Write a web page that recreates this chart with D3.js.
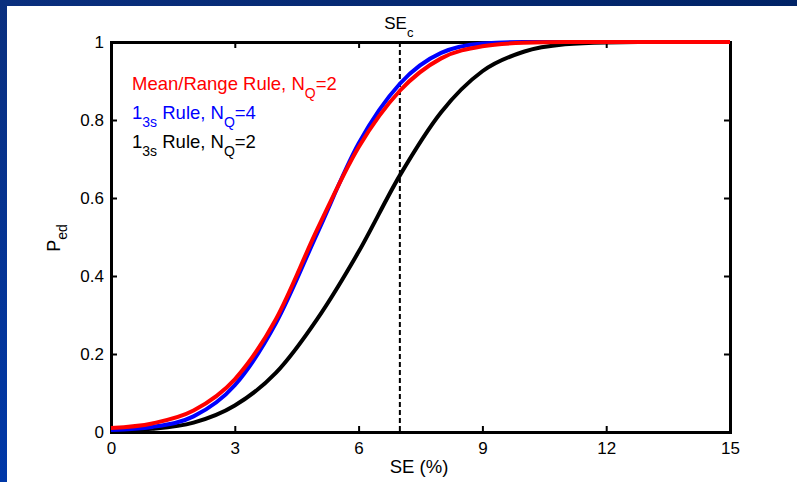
<!DOCTYPE html>
<html>
<head>
<meta charset="utf-8">
<script src="https://cdn.jsdelivr.net/npm/d3@7/dist/d3.min.js"></script>
<style>
  html, body { margin: 0; padding: 0; background: #fff; }
  svg { display: block; font-family: "Liberation Sans", Arial, sans-serif; }
</style>
</head>
<body>
<svg id="chart" width="797" height="482"></svg>
<script>
// Systematic error (%) at which each curve is sampled
const seValues = [0, 1, 2, 3, 4, 5, 6, 7, 8, 9, 10, 11, 12, 13, 14, 15];

// Probability of error detection for each QC rule
const pedMeanRange = [0.010, 0.022, 0.055, 0.135, 0.290, 0.520, 0.730, 0.875, 0.958, 0.989,
                      0.998, 1, 1, 1, 1, 1];
const ped13sN4 =     [0.005, 0.013, 0.040, 0.120, 0.280, 0.510, 0.740, 0.893, 0.972, 0.996,
                      1, 1, 1, 1, 1, 1];
const ped13sN2 =     [0.003, 0.008, 0.024, 0.068, 0.152, 0.290, 0.462, 0.658, 0.820, 0.925,
                      0.975, 0.994, 0.999, 1, 1, 1];

const xTicks = [0, 3, 6, 9, 12, 15];
const yTicks = [0, 0.2, 0.4, 0.6, 0.8, 1];
const yTickLabels = ["0", "0.2", "0.4", "0.6", "0.8", "1"];
const seCritical = 7;

const svg = d3.select("#chart");
const W = 797, H = 482;

// Slide-style frame: navy bar on top, blue strip on the left
const defs = svg.append("defs");
const gTop = defs.append("linearGradient").attr("id", "topBar").attr("x1", 0).attr("x2", 1).attr("y1", 0).attr("y2", 0);
gTop.append("stop").attr("offset", "0%").attr("stop-color", "#0a2f7e");
gTop.append("stop").attr("offset", "100%").attr("stop-color", "#002366");
const gLeft = defs.append("linearGradient").attr("id", "leftBar").attr("x1", 0).attr("x2", 0).attr("y1", 0).attr("y2", 1);
gLeft.append("stop").attr("offset", "0%").attr("stop-color", "#0a2f7e");
gLeft.append("stop").attr("offset", "100%").attr("stop-color", "#0038a8");

svg.append("rect").attr("x", 0).attr("y", 0).attr("width", W).attr("height", H).attr("fill", "#fff");
svg.append("rect").attr("x", 0).attr("y", 0).attr("width", 7).attr("height", H).attr("fill", "url(#leftBar)");
svg.append("rect").attr("x", 0).attr("y", 0).attr("width", W).attr("height", 6).attr("fill", "url(#topBar)");

const plotLeft = 111, plotRight = 730, plotTop = 42, plotBottom = 432;
const x = d3.scaleLinear().domain([0, 15]).range([plotLeft, plotRight]);
const y = d3.scaleLinear().domain([0, 1]).range([plotBottom, plotTop]);

const tickLen = 6;
const axisW = 3;

// Box axes with inward ticks on all four sides
const axB = svg.append("g").attr("transform", `translate(0,${plotBottom})`)
  .call(d3.axisBottom(x).tickValues(xTicks).tickSizeInner(-tickLen).tickSizeOuter(0).tickPadding(10).tickFormat(d3.format("d")));
const axT = svg.append("g").attr("transform", `translate(0,${plotTop})`)
  .call(d3.axisTop(x).tickValues(xTicks).tickSizeInner(-tickLen).tickSizeOuter(0).tickFormat(""));
const axL = svg.append("g").attr("transform", `translate(${plotLeft},0)`)
  .call(d3.axisLeft(y).tickValues(yTicks).tickSizeInner(-tickLen).tickSizeOuter(0).tickPadding(7)
    .tickFormat((d, i) => yTickLabels[i]));
const axR = svg.append("g").attr("transform", `translate(${plotRight},0)`)
  .call(d3.axisRight(y).tickValues(yTicks).tickSizeInner(-tickLen).tickSizeOuter(0).tickFormat(""));

[axB, axT, axL, axR].forEach(g => {
  g.select(".domain").attr("stroke", "#000").attr("stroke-width", axisW).attr("stroke-linecap", "square");
  g.selectAll(".tick line").attr("stroke", "#000").attr("stroke-width", 2);
  g.selectAll(".tick text").attr("fill", "#000").attr("font-size", 17)
    .attr("font-family", "'Liberation Sans', Arial, sans-serif");
});

// Critical systematic error marker
svg.append("line")
  .attr("x1", x(seCritical)).attr("x2", x(seCritical))
  .attr("y1", y(1)).attr("y2", y(0))
  .attr("stroke", "#000").attr("stroke-width", 2).attr("stroke-dasharray", "5,3");

const seLabel = svg.append("text").attr("x", x(seCritical) - 1).attr("y", 29)
  .attr("text-anchor", "middle").attr("font-size", 17).attr("fill", "#000");
seLabel.append("tspan").text("SE");
seLabel.append("tspan").attr("dy", 8).attr("font-size", 13).text("c");

// Power curves
const line = d3.line().x(d => x(d[0])).y(d => y(d[1])).curve(d3.curveMonotoneX);
const series = [
  { values: ped13sN2, color: "#000000" },
  { values: ped13sN4, color: "#0000ff" },
  { values: pedMeanRange, color: "#ff0000" }
];
series.forEach(s => {
  svg.append("path")
    .datum(seValues.map((se, i) => [se, s.values[i]]))
    .attr("fill", "none").attr("stroke", s.color).attr("stroke-width", 4)
    .attr("stroke-linejoin", "round").attr("d", line);
});

// Legend text
const legend = [
  { main: "Mean/Range Rule, N", sub1: null, color: "#ff0000", pre: null, eq: "=2" },
  { main: " Rule, N", pre: "1", sub1: "3s", color: "#0000ff", eq: "=4" },
  { main: " Rule, N", pre: "1", sub1: "3s", color: "#000000", eq: "=2" }
];
const legY = [90, 119, 148];
legend.forEach((l, i) => {
  const t = svg.append("text").attr("x", 132).attr("y", legY[i]).attr("font-size", 18.5).attr("fill", l.color)
    .attr("xml:space", "preserve");
  if (l.pre) {
    t.append("tspan").text(l.pre);
    t.append("tspan").attr("dy", 8).attr("font-size", 14).text(l.sub1);
    t.append("tspan").attr("dy", -8).text(l.main);
  } else {
    t.append("tspan").text(l.main);
  }
  t.append("tspan").attr("dy", 8).attr("font-size", 14).text("Q");
  t.append("tspan").attr("dy", -8).text(l.eq);
});

// Axis titles
svg.append("text").attr("x", 419).attr("y", 473).attr("text-anchor", "middle")
  .attr("font-size", 18.5).attr("fill", "#000").text("SE (%)");
const yt = svg.append("text").attr("transform", "translate(60,238) rotate(-90)")
  .attr("text-anchor", "middle").attr("font-size", 18).attr("fill", "#000");
yt.append("tspan").text("P");
yt.append("tspan").attr("dy", 7).attr("font-size", 14).text("ed");
</script>
</body>
</html>
